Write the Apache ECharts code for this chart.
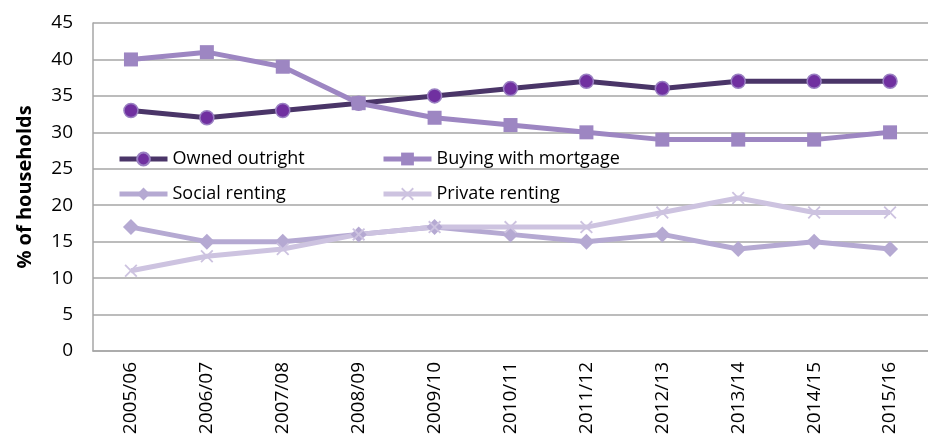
<!DOCTYPE html>
<html>
<head>
<meta charset="utf-8">
<script src="https://cdn.jsdelivr.net/npm/echarts@6/dist/echarts.min.js"></script>
<style>
html,body{margin:0;padding:0;background:#fff;}
#chart{width:928px;height:443px;}
</style>
</head>
<body>
<div id="chart"></div>
<script>
var categories = ['2005/06','2006/07','2007/08','2008/09','2009/10','2010/11','2011/12','2012/13','2013/14','2014/15','2015/16'];
var ownedOutright = [33,32,33,34,35,36,37,36,37,37,37];
var buyingMortgage = [40,41,39,34,32,31,30,29,29,29,30];
var socialRenting = [17,15,15,16,17,16,15,16,14,15,14];
var privateRenting = [11,13,14,16,17,17,17,19,21,19,19];
var yTicks = [0,5,10,15,20,25,30,35,40,45];

var FONT = '"Open Sans", "Noto Sans", sans-serif';
var xSymbol = 'path://M0,1 L1,0 L5,4 L9,0 L10,1 L6,5 L10,9 L9,10 L5,6 L1,10 L0,9 L4,5 Z';

var chart = echarts.init(document.getElementById('chart'));
var legendText = {fontSize: 18, color: '#000', fontFamily: FONT};
function leg(name, left, top) {
  return {data: [name], left: left, top: top, padding: 0, itemWidth: 48, itemHeight: 16,
          itemGap: 0, textStyle: legendText, selectedMode: false,
          lineStyle: {width: 5}};
}
chart.setOption({
  animation: false,
  grid: {left: 93, right: -3, top: 23, bottom: 92, containLabel: false},
  legend: [
    leg('Owned outright', 117, 150),
    leg('Buying with mortgage', 381, 150),
    leg('Social renting', 117, 185),
    leg('Private renting', 381, 185)
  ],
  xAxis: {
    type: 'category',
    data: categories,
    boundaryGap: true,
    axisLine: {show: true, lineStyle: {color: '#a6a6a6', width: 1.5}},
    axisTick: {show: false},
    axisLabel: {rotate: 90, margin: 11, fontSize: 19, color: '#000', fontFamily: FONT, interval: 0}
  },
  yAxis: {
    type: 'value',
    min: yTicks[0],
    max: yTicks[yTicks.length - 1],
    interval: 5,
    name: '% of households',
    nameLocation: 'middle',
    nameGap: 58,
    nameRotate: 90,
    nameTextStyle: {fontSize: 20, fontWeight: 'bold', color: '#000', fontFamily: FONT},
    axisLine: {show: true, lineStyle: {color: '#a6a6a6', width: 1.5}},
    axisTick: {show: false},
    axisLabel: {margin: 20, fontSize: 19, color: '#000', fontFamily: FONT},
    splitLine: {show: true, lineStyle: {color: '#a6a6a6', width: 1.5}}
  },
  series: [
    {
      name: 'Owned outright', type: 'line', data: ownedOutright,
      symbol: 'circle', symbolSize: 14,
      lineStyle: {color: '#4a3568', width: 5},
      itemStyle: {color: '#7030a0', borderColor: '#9a80c2', borderWidth: 1.5}
    },
    {
      name: 'Buying with mortgage', type: 'line', data: buyingMortgage,
      symbol: 'rect', symbolSize: 14,
      lineStyle: {color: '#9d86c2', width: 5},
      itemStyle: {color: '#9d86c2'}
    },
    {
      name: 'Social renting', type: 'line', data: socialRenting,
      symbol: 'diamond', symbolSize: 16,
      lineStyle: {color: '#b5a9d2', width: 5},
      itemStyle: {color: '#b5a9d2'}
    },
    {
      name: 'Private renting', type: 'line', data: privateRenting,
      symbol: xSymbol, symbolSize: 13,
      lineStyle: {color: '#cdc3e0', width: 5},
      itemStyle: {color: '#cdc3e0'}
    }
  ]
});
</script>
</body>
</html>
